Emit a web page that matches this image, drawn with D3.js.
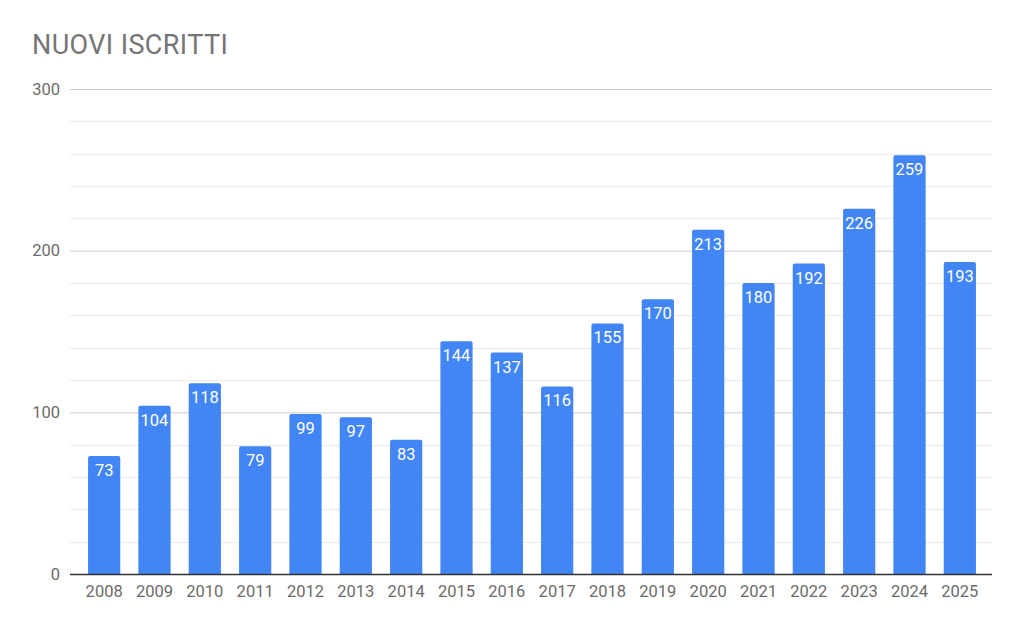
<!DOCTYPE html>
<html>
<head>
<meta charset="utf-8">
<script src="https://cdn.jsdelivr.net/npm/d3@7"></script>
<style>
  body { margin: 0; background: #fff; }
  text { font-family: Roboto, "Noto Sans", sans-serif; }
</style>
</head>
<body>
<div id="chart"></div>
<script>
// data
var years = ["2008", "2009", "2010", "2011", "2012", "2013", "2014", "2015", "2016",
  "2017", "2018", "2019", "2020", "2021", "2022", "2023", "2024", "2025"];
var iscritti = [73, 104, 118, 79, 99, 97, 83, 144, 137, 116, 155, 170, 213, 180, 192, 226, 259, 193];
var yTicks = [0, 100, 200, 300];
var yMinor = [20, 40, 60, 80, 120, 140, 160, 180, 220, 240, 260, 280];

var width = 1024, height = 632;
var plot = { left: 70, right: 992, top: 89, bottom: 574 };

var svg = d3.select("#chart")
  .append("svg")
  .attr("width", width)
  .attr("height", height);

// title
svg.append("text")
  .attr("x", 32)
  .attr("y", 54)
  .style("font-size", "27px")
  .style("letter-spacing", "0.4px")
  .style("fill", "#757575")
  .text("NUOVI ISCRITTI");

var x = d3.scaleBand()
  .domain(years)
  .range([79, 985])
  .paddingInner(0.36)
  .paddingOuter(0.18);

var y = d3.scaleLinear()
  .domain([0, 300])
  .range([plot.bottom, plot.top]);

// minor gridlines
svg.append("g")
  .selectAll("line")
  .data(yMinor)
  .enter()
  .append("line")
  .attr("x1", plot.left)
  .attr("x2", plot.right)
  .attr("y1", function(d) { return Math.round(y(d)) + 0.5; })
  .attr("y2", function(d) { return Math.round(y(d)) + 0.5; })
  .attr("stroke", "#ebebeb");

// y axis with major gridlines
var yAxis = svg.append("g")
  .attr("transform", "translate(" + plot.left + ",0)")
  .call(d3.axisLeft(y).tickValues(yTicks).tickSize(-(plot.right - plot.left)).tickPadding(10));
yAxis.select(".domain").remove();
yAxis.selectAll(".tick line").attr("stroke", "#cccccc");
yAxis.selectAll(".tick text")
  .style("font-size", "16.5px")
  .style("fill", "#6b6b6b")
  .style("font-family", "Roboto, sans-serif");

// bars
svg.append("g")
  .selectAll("path")
  .data(iscritti)
  .enter()
  .append("path")
  .attr("fill", "#4285f4")
  .attr("d", function(d, i) {
    var x0 = x(years[i]), w = x.bandwidth(), y0 = y(d), y1 = y(0), r = 2;
    return "M" + x0 + "," + y1 +
      "V" + (y0 + r) +
      "Q" + x0 + "," + y0 + " " + (x0 + r) + "," + y0 +
      "H" + (x0 + w - r) +
      "Q" + (x0 + w) + "," + y0 + " " + (x0 + w) + "," + (y0 + r) +
      "V" + y1 + "Z";
  });

// value labels
svg.append("g")
  .selectAll("text")
  .data(iscritti)
  .enter()
  .append("text")
  .attr("x", function(d, i) { return x(years[i]) + x.bandwidth() / 2; })
  .attr("y", function(d) { return y(d) + 20; })
  .attr("text-anchor", "middle")
  .style("font-size", "16.5px")
  .style("fill", "#ffffff")
  .text(function(d) { return d; });

// baseline
svg.append("line")
  .attr("x1", plot.left)
  .attr("x2", plot.right)
  .attr("y1", y(0) + 0.5)
  .attr("y2", y(0) + 0.5)
  .attr("stroke", "#333333")
  .attr("stroke-width", 1.5);

// x axis labels
var xAxis = svg.append("g")
  .attr("transform", "translate(0," + y(0) + ")")
  .call(d3.axisBottom(x).tickSize(0).tickPadding(11));
xAxis.select(".domain").remove();
xAxis.selectAll(".tick text")
  .style("font-size", "16.5px")
  .style("fill", "#6b6b6b")
  .style("font-family", "Roboto, sans-serif");
</script>
</body>
</html>
